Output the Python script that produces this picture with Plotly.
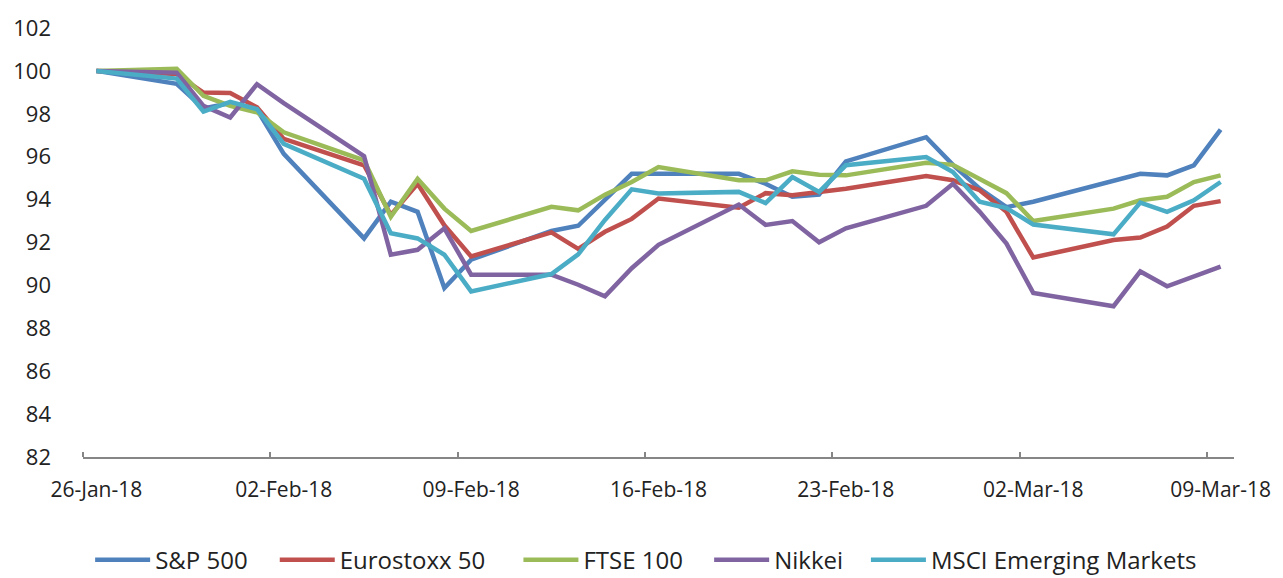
import pandas as pd
import plotly.graph_objects as go

dates = ["2018-01-26", "2018-01-29", "2018-01-30", "2018-01-31", "2018-02-01", "2018-02-02",
         "2018-02-05", "2018-02-06", "2018-02-07", "2018-02-08", "2018-02-09",
         "2018-02-12", "2018-02-13", "2018-02-14", "2018-02-15", "2018-02-16",
         "2018-02-19", "2018-02-20", "2018-02-21", "2018-02-22", "2018-02-23",
         "2018-02-26", "2018-02-27", "2018-02-28", "2018-03-01", "2018-03-02",
         "2018-03-05", "2018-03-06", "2018-03-07", "2018-03-08", "2018-03-09"]

sp500 = [100, 99.4, 98.25, 98.5, 98.2, 96.13, 92.19, 93.9, 93.43, 89.88, 91.2,
         92.54, 92.78, 93.97, 95.2, 95.2, 95.2, 94.74, 94.13, 94.23, 95.78,
         96.91, 95.62, 94.51, 93.65, 93.9, 94.9, 95.2, 95.13, 95.6, 97.26]
eurostoxx = [100, 99.85, 98.99, 98.97, 98.3, 96.83, 95.6, 93.28, 94.74, 92.8, 91.35,
             92.47, 91.7, 92.5, 93.1, 94.05, 93.62, 94.3, 94.2, 94.33, 94.51,
             95.1, 94.9, 94.44, 93.43, 91.3, 92.12, 92.23, 92.74, 93.71, 93.93]
ftse = [100, 100.1, 98.84, 98.37, 98.07, 97.14, 95.83, 93.2, 94.97, 93.58, 92.54,
        93.66, 93.5, 94.23, 94.82, 95.52, 94.9, 94.9, 95.32, 95.16, 95.13,
        95.72, 95.62, 94.97, 94.3, 93.0, 93.58, 93.97, 94.13, 94.82, 95.13]
nikkei = [100, 99.92, 98.37, 97.83, 99.38, 98.5, 96.03, 91.43, 91.66, 92.66, 90.5,
          90.5, 90.03, 89.49, 90.8, 91.89, 93.77, 92.82, 93.0, 92.01, 92.66,
          93.71, 94.74, 93.43, 91.95, 89.65, 89.03, 90.65, 89.96, 90.42, 90.88]
msci_em = [100, 99.64, 98.1, 98.56, 98.22, 96.6, 94.97, 92.43, 92.19, 91.43, 89.72,
           90.53, 91.45, 93.05, 94.48, 94.28, 94.36, 93.84, 95.05, 94.36, 95.6,
           95.98, 95.29, 93.9, 93.6, 92.84, 92.38, 93.86, 93.43, 93.97, 94.82]

series_names = ["S&P 500", "Eurostoxx 50", "FTSE 100", "Nikkei", "MSCI Emerging Markets"]
series_values = [sp500, eurostoxx, ftse, nikkei, msci_em]
colors = ["#4F81BD", "#C0504D", "#9BBB59", "#8064A2", "#4BACC6"]
legend_x = [0.0062, 0.1666, 0.3783, 0.5440, 0.6802]  # left edge of each legend entry (paper)

tick_dates = ["2018-01-26", "2018-02-02", "2018-02-09", "2018-02-16",
              "2018-02-23", "2018-03-02", "2018-03-09"]
tick_labels = ["26-Jan-18", "02-Feb-18", "09-Feb-18", "16-Feb-18",
               "23-Feb-18", "02-Mar-18", "09-Mar-18"]
y_ticks = list(range(82, 103, 2))

half_day = pd.Timedelta(hours=12)
tick_ts = pd.to_datetime(tick_dates)
minor_ticks = [(t - half_day).strftime("%Y-%m-%d %H:%M") for t in tick_ts]
x_range = [(pd.Timestamp(dates[0]) - half_day).strftime("%Y-%m-%d %H:%M"),
           (pd.Timestamp(dates[-1]) + half_day).strftime("%Y-%m-%d %H:%M")]

font_family = "Open Sans"
text_color = "#222222"
axis_color = "#868686"

fig = go.Figure()
legend_layouts = {}
for i, (name, vals, col, lx) in enumerate(zip(series_names, series_values, colors, legend_x)):
    lid = "legend" if i == 0 else f"legend{i + 1}"
    fig.add_trace(go.Scatter(x=dates, y=vals, name=name, mode="lines",
                             line=dict(color=col, width=4.5), legend=lid))
    legend_layouts[lid] = dict(orientation="h", x=lx, xanchor="left",
                               xref="paper", yref="container", y=0.031, yanchor="middle",
                               font=dict(family=font_family, size=24, color=text_color),
                               itemwidth=55, bgcolor="rgba(0,0,0,0)")

fig.update_layout(
    width=1283, height=578,
    margin=dict(l=83, r=47, t=25, b=121),
    paper_bgcolor="white", plot_bgcolor="white",
    font=dict(family=font_family, color=text_color),
    showlegend=True,
    xaxis=dict(type="date", range=x_range, tickvals=tick_dates, ticktext=tick_labels,
               ticks="", showgrid=False, zeroline=False,
               showline=True, linecolor=axis_color, linewidth=1.5,
               tickfont=dict(family=font_family, size=21, color=text_color),
               ticklabelstandoff=13,
               minor=dict(tickmode="array", tickvals=minor_ticks, ticks="inside",
                          ticklen=5, tickwidth=1.5, tickcolor=axis_color, showgrid=False)),
    yaxis=dict(range=[82, 102], tickvals=y_ticks, ticks="", showgrid=False,
               zeroline=False, showline=False,
               tickfont=dict(family=font_family, size=22, color=text_color),
               ticklabelstandoff=31),
    **legend_layouts,
)

fig.write_html("out.html")
